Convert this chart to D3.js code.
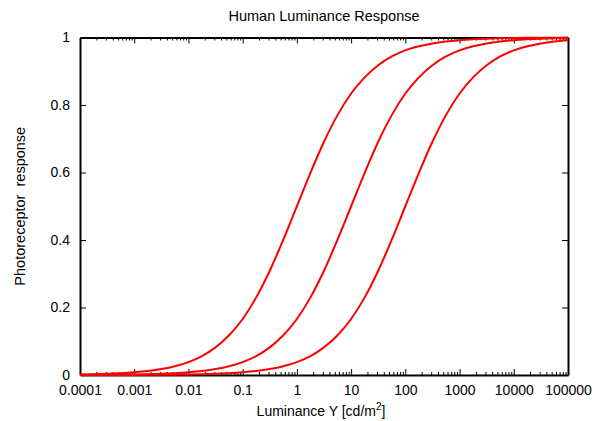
<!DOCTYPE html>
<html>
<head>
<meta charset="utf-8">
<script src="https://cdn.jsdelivr.net/npm/d3@7"></script>
<style>
  html, body { margin: 0; padding: 0; background: #fff; }
  svg { display: block; }
  text { font-family: "Liberation Sans", Arial, Helvetica, sans-serif; fill: #000; }
</style>
</head>
<body>
<svg id="chart" width="594" height="421"></svg>
<script>
// ---- data (quarter-decade samples) ----
const luminance = [
  1e-4, 1.78e-4, 3.16e-4, 5.62e-4,
  1e-3, 1.78e-3, 3.16e-3, 5.62e-3,
  1e-2, 1.78e-2, 3.16e-2, 5.62e-2,
  1e-1, 1.78e-1, 3.16e-1, 5.62e-1,
  1, 1.78, 3.16, 5.62,
  10, 17.8, 31.6, 56.2,
  100, 178, 316, 562,
  1000, 1778, 3162, 5623,
  10000, 17783, 31623, 56234,
  100000
];
const responseSigma1 = [
  0.0016, 0.0024, 0.0035, 0.0053, 0.0079, 0.0117, 0.0175, 0.0259, 0.0383, 0.0562,
  0.0818, 0.1177, 0.166, 0.230, 0.309, 0.401, 0.5, 0.599, 0.691, 0.770,
  0.834, 0.882, 0.918, 0.944, 0.962, 0.974, 0.9825, 0.9883, 0.9921, 0.9947,
  0.9965, 0.9976, 0.9984, 0.9989, 0.9993, 0.9995, 0.9997
];
const responseSigma10 = [
  0.0003, 0.0005, 0.0007, 0.0011,
  0.0016, 0.0024, 0.0035, 0.0053, 0.0079, 0.0117, 0.0175, 0.0259, 0.0383, 0.0562,
  0.0818, 0.1177, 0.166, 0.230, 0.309, 0.401, 0.5, 0.599, 0.691, 0.770,
  0.834, 0.882, 0.918, 0.944, 0.962, 0.974, 0.9825, 0.9883, 0.9921, 0.9947,
  0.9965, 0.9976, 0.9984
];
const responseSigma100 = [
  0.00006, 0.00009, 0.00014, 0.00021, 0.0003, 0.0005, 0.0007, 0.0011,
  0.0016, 0.0024, 0.0035, 0.0053, 0.0079, 0.0117, 0.0175, 0.0259, 0.0383, 0.0562,
  0.0818, 0.1177, 0.166, 0.230, 0.309, 0.401, 0.5, 0.599, 0.691, 0.770,
  0.834, 0.882, 0.918, 0.944, 0.962, 0.974, 0.9825, 0.9883, 0.9921
];
const xTickValues = [1e-4, 1e-3, 1e-2, 1e-1, 1, 10, 100, 1000, 10000, 100000];
const xTickLabels = ["0.0001", "0.001", "0.01", "0.1", "1", "10", "100", "1000", "10000", "100000"];
const yTickValues = [0, 0.2, 0.4, 0.6, 0.8, 1];
const yTickLabels = ["0", "0.2", "0.4", "0.6", "0.8", "1"];
const titleText = "Human Luminance Response";
const xLabelText = "Luminance Y [cd/m";
const xLabelSup = "2";
const yLabelText = "Photoreceptor\u00a0\u00a0response";

// ---- layout ----
const plotLeft = 80, plotRight = 568, plotTop = 37.5, plotBottom = 375;
const svg = d3.select("#chart");

const x = d3.scaleLog().domain([1e-4, 1e5]).range([plotLeft, plotRight]);
const y = d3.scaleLinear().domain([0, 1]).range([plotBottom, plotTop]);

const minorTicks = [];
for (let e = -4; e < 5; e++) for (let m = 2; m <= 9; m++) minorTicks.push(m * Math.pow(10, e));

function styleAxis(g) {
  g.select(".domain").attr("stroke", "#000").attr("stroke-width", 2);
  g.selectAll(".tick line").attr("stroke", "#000").attr("stroke-width", 1);
  g.selectAll(".tick text").style("font-size", "14px").attr("fill", "#000");
}

// bottom axis (major with labels)
svg.append("g").attr("transform", `translate(0,${plotBottom})`)
  .call(d3.axisBottom(x).tickValues(xTickValues).tickFormat((d, i) => xTickLabels[i])
    .tickSizeInner(-6).tickSizeOuter(0).tickPadding(10))
  .call(styleAxis);
// bottom minor
svg.append("g").attr("transform", `translate(0,${plotBottom})`)
  .call(d3.axisBottom(x).tickValues(minorTicks).tickFormat("").tickSizeInner(-3).tickSizeOuter(0))
  .call(g => g.select(".domain").remove())
  .call(styleAxis);
// top axis
svg.append("g").attr("transform", `translate(0,${plotTop})`)
  .call(d3.axisTop(x).tickValues(xTickValues).tickFormat("").tickSizeInner(-6).tickSizeOuter(0))
  .call(styleAxis);
svg.append("g").attr("transform", `translate(0,${plotTop})`)
  .call(d3.axisTop(x).tickValues(minorTicks).tickFormat("").tickSizeInner(-3).tickSizeOuter(0))
  .call(g => g.select(".domain").remove())
  .call(styleAxis);
// left axis
svg.append("g").attr("transform", `translate(${plotLeft},0)`)
  .call(d3.axisLeft(y).tickValues(yTickValues).tickFormat((d, i) => yTickLabels[i])
    .tickSizeInner(-6).tickSizeOuter(0).tickPadding(10))
  .call(styleAxis);
// right axis
svg.append("g").attr("transform", `translate(${plotRight},0)`)
  .call(d3.axisRight(y).tickValues(yTickValues).tickFormat("").tickSizeInner(-6).tickSizeOuter(0))
  .call(styleAxis);

// curves
const series = [responseSigma1, responseSigma10, responseSigma100];
const line = d3.line()
  .x(d => x(d[0]))
  .y(d => y(d[1]))
  .curve(d3.curveMonotoneX);
svg.append("g").selectAll("path").data(series).join("path")
  .attr("d", vals => line(luminance.map((l, i) => [l, vals[i]])))
  .attr("fill", "none")
  .attr("stroke", "#ff0000")
  .attr("stroke-width", 2)
  .attr("stroke-linejoin", "round");

// title
svg.append("text").attr("x", (plotLeft + plotRight) / 2).attr("y", 21)
  .attr("text-anchor", "middle").style("font-size", "14.5px").text(titleText);

// x label
const xl = svg.append("text").attr("x", (plotLeft + plotRight) / 2 - 3).attr("y", 416)
  .attr("text-anchor", "middle").style("font-size", "14px");
xl.append("tspan").text(xLabelText);
xl.append("tspan").attr("dy", -6).style("font-size", "10px").text(xLabelSup);
xl.append("tspan").attr("dy", 6).text("]");

// y label
svg.append("text")
  .attr("transform", `translate(25,${(plotTop + plotBottom) / 2}) rotate(-90)`)
  .attr("text-anchor", "middle").style("font-size", "14.5px").text(yLabelText);
</script>
</body>
</html>
